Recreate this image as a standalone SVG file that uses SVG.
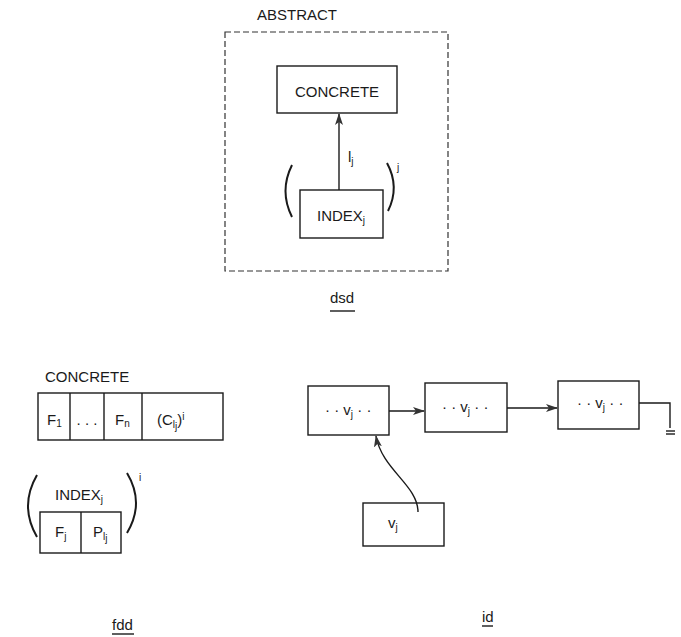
<svg xmlns="http://www.w3.org/2000/svg" width="681" height="637" viewBox="0 0 681 637">
<style>
text{font-family:"Liberation Sans",Arial,sans-serif;font-size:15px;fill:#1a1a1a}
.s{font-size:10px}
.box{fill:none;stroke:#1a1a1a;stroke-width:1.4}
.ln{fill:none;stroke:#1a1a1a;stroke-width:1.4}
.par{fill:none;stroke:#1a1a1a;stroke-width:2}
.dash{fill:none;stroke:#333;stroke-width:1.2;stroke-dasharray:6 3}
</style>
<defs>
<marker id="ah" markerWidth="12" markerHeight="8" refX="11" refY="4" orient="auto" markerUnits="userSpaceOnUse">
<path d="M0,0 L12,4 L0,8 L3,4 Z" fill="#333"/>
</marker>
</defs>

<g id="dsd">
<text x="257" y="20">ABSTRACT</text>
<rect class="dash" x="225" y="32" width="223" height="239"/>
<g id="concrete_top">
<rect class="box" x="277" y="66" width="120" height="47"/>
<text x="337" y="97" text-anchor="middle">CONCRETE</text>
</g>
<g id="index_top">
<rect class="box" x="300" y="190" width="83" height="48"/>
<text x="317" y="221">INDEX<tspan class="s" dy="3">j</tspan></text>
<path class="par" d="M292,165 Q279,191 292,217"/>
<path class="par" d="M387,163 Q400,187 388,211"/>
<text class="s" x="397" y="171">j</text>
</g>
<text x="348" y="162">l<tspan class="s" dy="3">j</tspan></text>
<text x="330" y="303">dsd</text>
<line class="ln" x1="330" y1="311" x2="355" y2="311" stroke-width="1"/>
</g>

<g id="fdd">
<text x="45" y="382">CONCRETE</text>
<g id="concrete_row">
<rect class="box" x="38" y="393" width="185" height="47"/>
<line class="ln" x1="70" y1="393" x2="70" y2="440"/>
<line class="ln" x1="104" y1="393" x2="104" y2="440"/>
<line class="ln" x1="142" y1="393" x2="142" y2="440"/>
<text x="47" y="425">F<tspan class="s" dy="2">1</tspan></text>
<text x="87" y="425" text-anchor="middle">. . .</text>
<text x="115" y="425">F<tspan class="s" dy="2">n</tspan></text>
<text x="157" y="425">(C<tspan class="s" dy="3">l</tspan><tspan class="s" dy="2" font-size="8">j</tspan><tspan dy="-5">)</tspan><tspan class="s" dy="-5">i</tspan></text>
</g>
<g id="index_row">
<text x="55" y="500">INDEX<tspan class="s" dy="3">j</tspan></text>
<rect class="box" x="40" y="512" width="81" height="41"/>
<line class="ln" x1="81" y1="512" x2="81" y2="553"/>
<text x="55" y="537">F<tspan class="s" dy="3">j</tspan></text>
<text x="93" y="537">P<tspan class="s" dy="3">l</tspan><tspan class="s" dy="2" font-size="8">j</tspan></text>
<path class="par" d="M37,475 Q19,506 37,537"/>
<path class="par" d="M127,473 Q145,503 127,533"/>
<text class="s" x="139" y="481">i</text>
</g>
<text x="112" y="630">fdd</text>
<line class="ln" x1="112" y1="634" x2="134" y2="634" stroke-width="1"/>
</g>

<g id="id">
<g id="n1">
<rect class="box" x="308" y="386" width="81" height="49"/>
<text x="325" y="415">· · v<tspan class="s" dy="3">j</tspan><tspan dy="-3"> · ·</tspan></text>
</g>
<g id="n2">
<rect class="box" x="425" y="383" width="82" height="49"/>
<text x="442" y="412">· · v<tspan class="s" dy="3">j</tspan><tspan dy="-3"> · ·</tspan></text>
</g>
<g id="n3">
<rect class="box" x="558" y="381" width="81" height="48"/>
<text x="577" y="408">· · v<tspan class="s" dy="3">j</tspan><tspan dy="-3"> · ·</tspan></text>
</g>
<g id="n4">
<rect class="box" x="363" y="503" width="81" height="43"/>
<text x="388" y="528">v<tspan class="s" dy="3">j</tspan></text>
</g>
<text x="482" y="622">id</text>
<line class="ln" x1="482" y1="626" x2="493" y2="626" stroke-width="1"/>
</g>

<g id="connectors">
<line class="ln" x1="339" y1="190" x2="339" y2="114" marker-end="url(#ah)"/>
<line class="ln" x1="389" y1="411" x2="424" y2="411" marker-end="url(#ah)"/>
<line class="ln" x1="507" y1="408" x2="557" y2="408" marker-end="url(#ah)"/>
<path class="ln" d="M418,512 C418,485 382,470 376,436" marker-end="url(#ah)"/>
<polyline class="ln" points="639,403 670,403 670,428"/>
<line class="ln" x1="666" y1="431" x2="675" y2="431" stroke-width="1.2"/>
<line class="ln" x1="666" y1="434" x2="675" y2="434" stroke-width="1.2"/>
</g>
</svg>
